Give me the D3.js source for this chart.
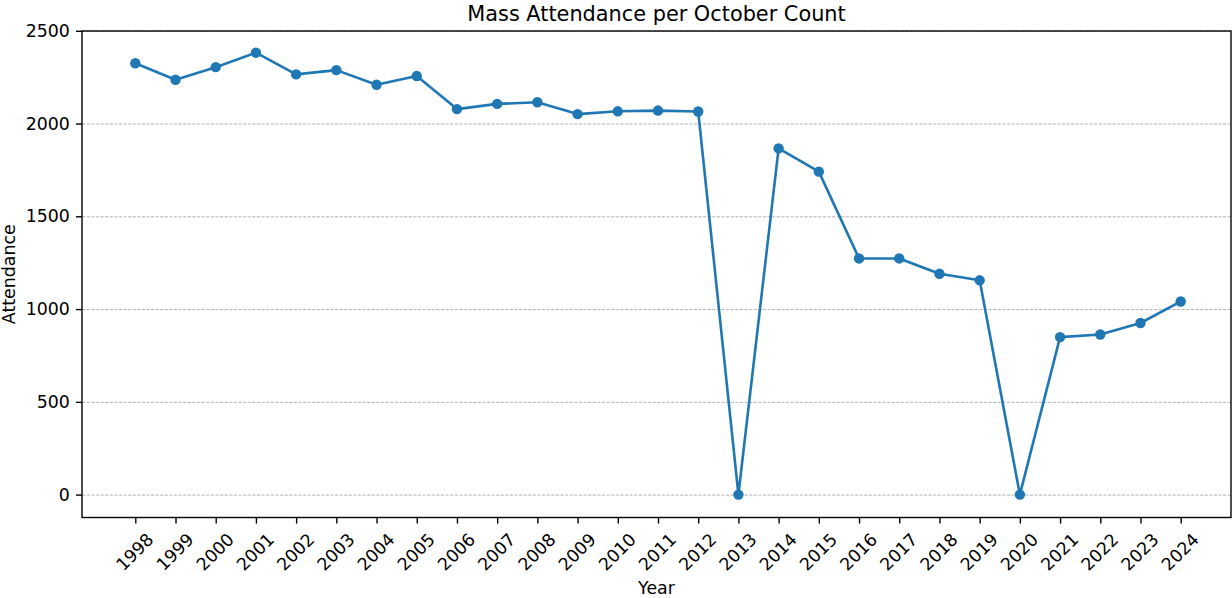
<!DOCTYPE html>
<html>
<head>
<meta charset="utf-8">
<script src="https://cdn.jsdelivr.net/npm/d3@7"></script>
<style>
  html, body { margin: 0; padding: 0; background: #fff; }
  svg { display: block; font-family: "DejaVu Sans", sans-serif; }
</style>
</head>
<body>
<svg id="chart" width="1232" height="598"></svg>
<script>
const years = [1998,1999,2000,2001,2002,2003,2004,2005,2006,2007,2008,2009,2010,2011,2012,2013,2014,2015,2016,2017,2018,2019,2020,2021,2022,2023,2024];
const attendance = [2325,2236,2304,2382,2265,2288,2209,2256,2078,2106,2115,2051,2066,2070,2065,0,1866,1741,1273,1273,1190,1155,0,849,863,925,1041];
const yTicks = [0,500,1000,1500,2000,2500];
const titleText = "Mass Attendance per October Count";
const xLabel = "Year";
const yLabel = "Attendance";

const svg = d3.select("#chart");
const L = 82, R = 1231, T = 31, B = 517.5;
const pt = 125/72;

const x = d3.scaleLinear().domain(d3.extent(years)).range([135.3, 1180.7]);
const y = d3.scaleLinear().domain(d3.extent(yTicks)).range([494.6, 30.8]);

// grid
const grid = svg.append("g").attr("transform", `translate(${L},0)`)
  .call(d3.axisLeft(y).tickValues(yTicks).tickSize(-(R - L)).tickFormat(""));
grid.select(".domain").remove();
grid.selectAll(".tick line")
  .attr("stroke", "#808080").attr("stroke-opacity", 0.7)
  .attr("stroke-width", 0.5 * pt).attr("stroke-dasharray", `${3.7*0.5*pt},${1.6*0.5*pt}`);

// line
const pts = years.map((d, i) => [d, attendance[i]]);
svg.append("path")
  .datum(pts)
  .attr("fill", "none").attr("stroke", "#1f77b4")
  .attr("stroke-width", 1.5 * pt).attr("stroke-linejoin", "round").attr("stroke-linecap", "square")
  .attr("d", d3.line().x(d => x(d[0])).y(d => y(d[1])));

svg.append("g").selectAll("circle")
  .data(pts)
  .join("circle")
  .attr("cx", d => x(d[0])).attr("cy", d => y(d[1]))
  .attr("r", 3 * pt).attr("fill", "#1f77b4");

// spines
svg.append("rect").attr("x", L).attr("y", T).attr("width", R - L).attr("height", B - T)
  .attr("fill", "none").attr("stroke", "#000").attr("stroke-width", 0.8 * pt);

// y axis
const yAxis = svg.append("g").attr("transform", `translate(${L},0)`)
  .call(d3.axisLeft(y).tickValues(yTicks).tickSize(3.5 * pt).tickPadding(3.5 * pt).tickFormat(d3.format("d")));
yAxis.select(".domain").remove();
yAxis.selectAll(".tick line").attr("stroke", "#000").attr("stroke-width", 0.8 * pt);
yAxis.selectAll(".tick text").attr("font-size", 10 * pt).attr("fill", "#000")
  .attr("font-family", "DejaVu Sans");

// x axis
const xAxis = svg.append("g").attr("transform", `translate(0,${B})`)
  .call(d3.axisBottom(x).tickValues(years).tickSize(3.5 * pt).tickFormat(d3.format("d")));
xAxis.select(".domain").remove();
xAxis.selectAll(".tick line").attr("stroke", "#000").attr("stroke-width", 0.8 * pt);
xAxis.selectAll(".tick text")
  .attr("font-size", 10 * pt).attr("fill", "#000").attr("font-family", "DejaVu Sans")
  .attr("y", null).attr("dy", null)
  .attr("text-anchor", "middle").attr("dominant-baseline", "central")
  .attr("transform", "translate(-1,34.5) rotate(-45)");

// title and labels
svg.append("text").attr("x", (L + R) / 2).attr("y", T - 6 * pt)
  .attr("text-anchor", "middle").attr("font-size", 12 * pt).attr("fill", "#000")
  .text(titleText);
svg.append("text").attr("x", (L + R) / 2).attr("y", 593.5)
  .attr("text-anchor", "middle").attr("font-size", 10 * pt).attr("fill", "#000")
  .text(xLabel);
svg.append("text").attr("transform", `translate(15,${(T + B) / 2}) rotate(-90)`)
  .attr("text-anchor", "middle").attr("font-size", 10 * pt).attr("fill", "#000")
  .text(yLabel);
</script>
</body>
</html>
